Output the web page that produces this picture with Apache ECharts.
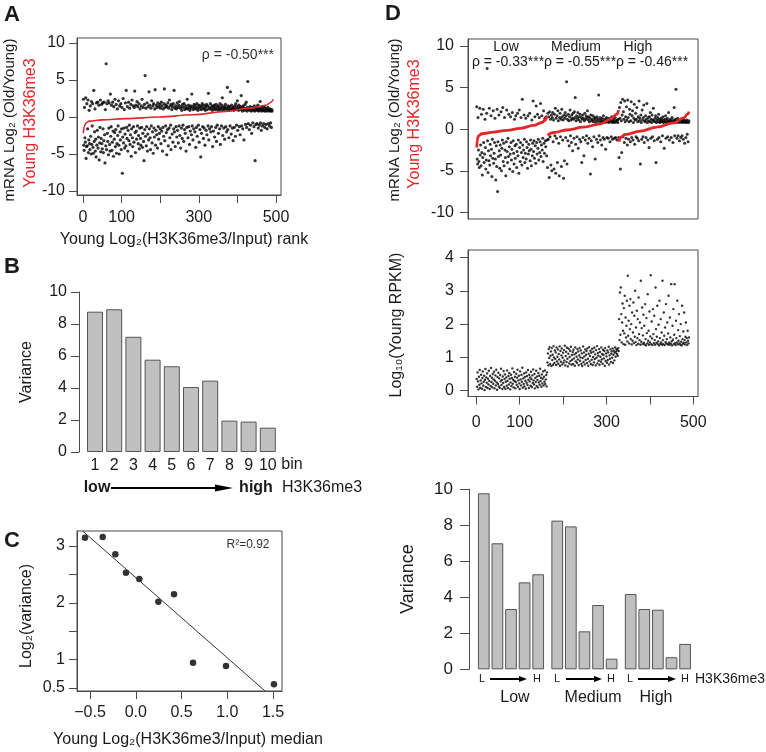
<!DOCTYPE html>
<html>
<head>
<meta charset="utf-8">
<script src="https://cdn.jsdelivr.net/npm/echarts@6/dist/echarts.min.js"></script>
<style>
html, body { margin: 0; padding: 0; background: #fff; }
#chart { width: 766px; height: 752px; }
</style>
</head>
<body>
<div id="chart"></div>
<script>
// ---- data ----
// A: mRNA log2(old/young), one value per H3K36me3 rank (1..490)
const aMrnaByRank = [
  2.4,-3.8,-4.5,1.3,-2.8,-3.4,2.6,-5.6,-4.0,1.8,
  -3.9,-1.6,2.3,-4.8,-3.1,0.9,-3.6,-4.4,1.5,-2.6,
  -5.0,2.1,-3.7,-1.2,1.8,-4.1,-4.9,3.6,-3.3,-2.0,
  1.1,-4.6,-3.0,-5.4,1.9,-3.8,-1.8,2.0,-4.2,-2.7,
  1.6,-5.8,-3.5,-1.4,2.3,-4.7,-2.9,1.7,-3.6,-4.3,
  1.9,-1.6,-4.8,-3.2,2.0,-2.4,-6.2,1.0,-3.9,7.2,
  -4.4,1.8,-2.2,-3.3,2.2,-5.1,-1.5,1.9,-3.7,-4.6,
  3.1,-2.6,-1.3,1.6,-4.5,-3.4,2.0,-1.9,-5.3,1.4,
  -3.0,-2.1,2.4,-4.0,-1.7,1.7,-4.9,-3.6,1.1,-2.5,
  -1.2,2.2,-3.8,-5.0,1.5,-2.0,-3.1,1.8,-4.4,-1.6,
  1.3,-7.6,-2.7,2.5,-3.5,-1.5,1.0,-4.2,-2.3,1.9,
  -3.9,3.6,-1.4,-2.9,1.4,-4.6,-1.8,2.0,-3.2,-1.1,
  1.2,-3.7,-2.4,1.7,-5.3,-1.6,2.3,-2.8,-4.0,1.5,
  -1.3,-3.4,1.3,3.5,-2.1,-4.8,1.6,-1.9,-3.0,2.1,
  -1.2,1.4,-3.6,-2.5,1.8,-4.3,-1.5,1.1,-2.9,-3.8,
  1.5,-1.4,2.4,-4.1,-2.2,1.3,-3.3,-5.9,1.7,-1.7,
  5.6,-2.6,1.2,-3.9,-1.3,1.9,-4.6,-2.3,1.4,-3.1,
  3.4,-1.6,1.6,-2.8,-4.4,1.2,-1.2,2.2,-3.5,-2.0,
  1.5,-4.9,1.8,-1.5,-2.7,1.1,3.7,-3.8,-1.8,1.6,
  -2.4,1.3,-4.2,1.9,-1.3,-3.0,1.4,-2.2,1.7,-1.6,
  1.2,-3.6,2.0,-1.9,1.5,-4.6,-1.4,1.1,-2.6,1.8,
  3.8,-3.2,1.3,-1.2,1.6,-2.1,-5.1,1.4,-1.7,1.9,
  -3.9,1.2,-1.5,2.3,-2.8,1.5,-1.1,-4.4,1.7,1.0,
  -2.3,1.4,-3.4,1.8,-1.6,3.6,-2.0,1.2,-4.0,1.5,
  -1.3,1.1,-2.7,1.9,-1.8,1.3,-3.5,1.6,-1.2,2.1,
  -2.5,1.2,-4.2,1.4,-1.5,0.9,-2.9,1.7,-1.1,1.3,
  -3.3,1.8,-1.7,1.0,-2.2,1.5,-4.6,1.2,-1.4,2.4,
  1.1,-2.8,1.6,-1.3,1.3,-3.7,0.9,-1.9,1.5,1.2,
  -2.4,3.1,-1.2,1.4,-3.1,1.0,-1.6,1.7,1.2,-2.0,
  1.5,-4.1,1.1,-1.4,1.8,-2.6,1.3,0.9,-1.1,1.6,
  -3.4,1.2,-1.7,1.5,-5.4,1.0,-2.2,1.4,1.8,-1.3,
  1.1,-2.9,1.6,-1.5,1.2,-3.8,0.9,1.4,-1.8,1.7,
  -2.4,1.0,1.5,-1.2,3.2,-3.1,1.3,-1.6,1.1,1.8,
  -2.0,1.2,-1.3,1.5,0.9,-4.0,1.4,-1.9,1.1,1.6,
  -2.7,1.3,1.0,-1.4,1.7,-3.3,1.2,-1.1,1.5,0.9,
  -2.2,1.4,1.1,-1.6,1.8,-3.7,1.0,1.3,-1.2,1.6,
  2.6,-2.5,1.2,0.9,-1.5,1.4,-3.0,1.1,1.7,-1.3,
  1.3,-2.0,1.0,4.0,-1.7,1.5,1.2,-2.8,0.9,1.4,
  -1.2,3.4,1.1,-2.3,1.6,1.0,-1.5,1.3,-3.2,1.2,
  0.9,-1.4,1.5,1.1,-2.6,1.8,1.0,-1.1,1.4,2.2,
  -1.8,1.2,0.9,1.6,-1.3,1.1,-2.4,1.4,1.0,2.9,
  -1.2,1.3,0.8,-1.6,1.5,1.0,-3.1,1.2,0.9,1.7,
  -1.0,1.1,2.0,-1.4,0.8,1.3,4.8,-0.9,1.0,1.2,
  -1.7,0.9,1.4,-1.1,1.1,0.8,-2.2,1.3,1.0,-0.8,
  1.2,0.9,-1.3,1.5,0.8,-5.9,1.1,-1.0,1.3,0.9,
  -0.9,1.0,1.6,-1.5,0.8,1.2,-1.1,0.9,2.1,-0.8,
  1.1,-1.8,0.8,1.3,-1.2,0.9,1.0,-0.9,1.4,0.8,
  -1.4,1.2,0.9,-1.0,0.8,1.1,-1.6,0.9,1.3,-0.9,
  0.8,1.0,-1.2,0.9,1.1,-0.8,0.8,-1.4,1.0,0.8
];
// A: red curve, young H3K36me3 (rank, scaled value)
const aH3Curve = [[1,-2.2],[3,-1.3],[8,-0.8],[16,-0.55],[50,-0.38],[110,-0.22],[198,0],
  [284,0.3],[370,0.75],[431,1.2],[474,1.6],[487,2.0],[493,2.4]];

// B
const binLabels = ['1','2','3','4','5','6','7','8','9','10'];
const binVariance = [8.77, 8.92, 7.2, 5.77, 5.36, 4.06, 4.46, 1.96, 1.9, 1.52];

// C
const cMedian = [-0.555, -0.361, -0.223, -0.107, 0.039, 0.247, 0.418, 0.626, 0.986, 1.51];
const cLogVar = [3.146, 3.158, 2.853, 2.53, 2.42, 2.02, 2.15, 0.946, 0.887, 0.565];
const cFit = [[-0.58, 3.264], [1.413, 0.447]];

// D: groups by expression, ranks run on across the groups
const groupNames = ['Low', 'Medium', 'High'];
const groupRho = ['ρ = -0.33***', 'ρ = -0.55***', 'ρ = -0.46***'];
const dMrnaLow = [
  2.7,-3.6,-4.2,1.4,-2.5,-3.9,-4.6,2.5,-3.1,-1.9,
  -4.4,1.8,-2.8,-5.5,-3.4,2.4,-1.6,-4.0,-3.0,1.2,
  -2.2,-4.8,-3.7,1.9,7.3,-1.4,-5.2,-2.6,-3.8,2.5,
  -4.3,-1.8,-3.2,1.6,-2.4,-5.7,-1.2,-3.5,2.2,-4.1,
  -2.9,-1.6,1.3,-3.6,-6.1,-2.0,-4.5,2.4,-7.5,-1.5,
  -3.3,1.7,-2.6,-4.7,-1.9,-3.1,2.1,-5.0,-2.3,-1.3,
  2.6,-3.9,-1.7,-4.4,1.4,-2.5,-3.4,-5.6,-1.5,2.3,
  -2.7,-4.0,-1.1,-3.3,1.8,-2.1,-4.8,-3.0,1.5,-1.6,
  -3.7,-2.4,2.0,-5.1,-1.4,-2.9,-4.2,1.2,-2.0,-3.5,
  1.6,-1.8,-4.6,-2.7,1.9,-3.2,-1.3,-5.3,2.3,-2.2,
  -3.9,-1.6,1.4,-2.8,-4.3,3.6,-1.9,-3.4,-2.5,1.7,
  -1.2,-4.0,-2.9,1.3,-3.6,-1.5,-2.2,-4.7,1.6,-3.0,
  -1.8,-2.6,1.9,-3.8,-1.3,-2.4,-4.4,1.1,-3.2,-1.7,
  3.4,-2.7,-1.4,-3.5,1.5,-2.0,-4.1,2.8,-1.6,-3.0,
  1.8,-2.3,-1.2,-3.7,1.4,-2.8,-1.5,3.1,-3.3,-1.9,
  1.6,-2.5,-1.1,-3.9,2.2,-1.7,-2.9,1.3,-1.4,-2.1,
  1.5,-3.2,-1.3
];
const dMrnaMed = [
  -4.6,1.9,-1.2,1.5,-5.8,2.1,-0.9,1.2,-4.3,1.7,
  -5.0,1.4,2.0,-1.5,1.1,-4.8,1.8,-0.8,2.5,-5.3,
  1.3,-1.1,1.6,-4.0,2.2,1.0,-1.7,-5.6,1.4,1.9,
  -0.9,1.2,-4.5,2.4,1.5,-1.3,1.1,-5.9,1.7,-3.8,
  1.3,2.0,-1.0,1.6,5.7,-4.2,1.2,-1.4,1.8,1.0,
  -2.0,1.5,2.3,-0.8,1.1,-1.6,1.7,1.3,-2.6,1.9,
  1.2,-1.1,2.1,1.4,3.8,-1.8,1.0,1.6,-0.9,1.3,
  2.0,-2.3,1.1,1.5,-1.2,1.8,0.9,-1.5,1.4,-4.0,
  1.2,1.7,-1.0,1.3,-3.2,1.0,1.9,-1.3,1.2,1.6,
  -0.8,1.4,2.2,-1.7,1.1,1.5,-1.1,0.9,1.3,-5.4,
  1.7,-1.4,1.0,1.2,-2.1,1.6,0.9,-0.9,1.4,1.1,
  -3.6,1.3,0.8,-1.2,1.5,1.0,-1.6,1.2,4.1,-0.8,
  0.9,1.4,-1.3,1.1,0.8,-1.9,1.3,1.0,-1.0,1.6,
  0.9,-1.2,1.2,0.8,-2.4,1.1,1.4,-1.0,0.9,1.2,
  -1.1,0.8,1.3,1.0,-1.5,0.9,1.1,-0.9,1.5,0.8,
  -1.2,1.0,0.9,1.2,-1.1,0.8,1.4,-1.0,1.0,0.9,
  -1.3,1.1,0.8,1.2,-1.0
];
const dMrnaHigh = [
  -3.4,2.6,1.3,-4.8,3.2,1.0,-2.8,1.7,3.6,-0.9,
  2.1,1.2,-1.6,3.4,0.9,1.5,-1.1,2.7,1.1,-1.9,
  3.5,1.4,-1.2,0.9,2.4,1.8,-1.5,1.0,3.3,-1.0,
  1.6,2.2,-1.3,0.8,1.3,3.0,-1.8,1.1,1.9,-0.9,
  1.2,2.6,-1.1,0.9,1.5,-1.4,3.4,1.0,1.3,-4.2,
  1.7,0.8,-1.2,2.3,1.1,-0.9,1.4,2.9,-1.6,1.0,
  0.9,1.6,-1.0,1.2,3.1,0.8,-1.3,1.4,1.0,-2.2,
  1.5,0.9,2.0,-1.1,1.2,0.8,1.7,-0.9,1.1,2.5,
  1.0,-1.4,0.9,1.3,1.6,-4.0,0.8,1.1,-1.2,1.4,
  0.9,1.8,-1.0,1.2,0.8,1.0,-1.5,1.3,0.9,1.1,
  -0.8,1.5,0.8,1.0,-2.3,1.2,0.9,1.6,-1.1,0.8,
  1.1,1.3,-0.9,0.9,2.0,1.0,-1.3,0.8,1.2,1.0,
  -1.0,0.9,1.4,0.8,-1.6,1.1,0.9,2.6,-0.8,1.0,
  1.2,4.8,0.8,-1.1,0.9,1.3,-0.8,1.0,0.8,-1.4,
  1.1,0.9,-1.0,1.2,0.8,-0.8,1.0,0.9,-1.2,1.1,
  0.8,-1.7,1.0,0.9,-1.0,0.8,1.1,-0.6,0.9,-1.5,0.8,1.0
];
const dCurveLow = [[1,-2.2],[2,-1.4],[5,-0.8],[13,-0.55],[40,-0.35],[71,-0.15],[101,0.1],
  [132,0.45],[151,0.8],[159,1.1],[163,1.6]];
const dCurveMed = [[164,-0.72],[178,-0.4],[209,-0.1],[247,0.24],[286,0.64],[309,1.2],[324,1.8],[328,2.3]];
const dCurveHigh = [[329,-1.5],[332,-1.0],[343,-0.64],[378,-0.24],[416,0.24],[455,0.76],[478,1.36],
  [487,1.8],[490,2.1]];

const dRpkmLow = [
  0.35,0.12,0.55,0.28,0.04,0.42,0.18,0.62,0.09,0.31,
  0.48,0.22,0.06,0.38,0.58,0.15,0.27,0.45,0.02,0.33,
  0.65,0.11,0.40,0.24,0.52,0.08,0.36,0.19,0.60,0.29,
  0.05,0.44,0.14,0.68,0.26,0.39,0.10,0.50,0.21,0.34,
  0.57,0.07,0.30,0.46,0.16,0.63,0.25,0.03,0.41,0.20,
  0.54,0.13,0.37,0.09,0.47,0.28,0.66,0.17,0.32,0.05,
  0.43,0.23,0.59,0.11,0.35,0.49,0.06,0.27,0.40,0.15,
  0.61,0.30,0.08,0.44,0.19,0.53,0.36,0.04,0.25,0.48,
  0.14,0.38,0.67,0.21,0.33,0.10,0.56,0.29,0.42,0.07,
  0.26,0.51,0.18,0.39,0.63,0.12,0.31,0.45,0.22,0.05,
  0.58,0.34,0.16,0.47,0.27,0.69,0.09,0.37,0.20,0.52,
  0.13,0.41,0.30,0.06,0.55,0.24,0.44,0.17,0.62,0.33,
  0.08,0.48,0.28,0.40,0.15,0.57,0.35,0.11,0.46,0.23,
  0.64,0.31,0.19,0.50,0.07,0.38,0.26,0.60,0.14,0.43,
  0.32,0.10,0.53,0.25,0.45,0.18,0.66,0.29,0.39,0.12,
  0.49,0.22,0.36,0.58,0.16,0.42,0.27,0.61,0.20,0.34,
  0.47,0.13,0.55
];
const dRpkmMed = [
  0.85,1.12,0.76,1.25,0.98,1.31,0.80,1.05,1.18,0.74,
  1.28,0.92,1.08,0.78,1.34,1.00,0.83,1.21,0.95,1.15,
  0.77,1.30,0.88,1.02,1.24,0.81,1.10,0.94,1.33,0.75,
  1.19,0.87,1.06,1.27,0.79,0.99,1.14,0.84,1.22,0.91,
  1.35,0.76,1.04,1.17,0.86,1.29,0.96,0.73,1.11,1.26,
  0.82,1.01,1.20,0.89,1.32,0.78,1.07,0.93,1.16,0.80,
  1.23,0.97,1.09,0.75,1.30,0.88,1.13,1.02,0.84,1.25,
  0.94,1.18,0.77,1.06,1.28,0.90,1.00,1.21,0.81,1.12,
  0.74,0.98,1.33,0.86,1.15,1.03,0.79,1.24,0.92,1.08,
  1.19,0.83,1.27,0.96,0.75,1.11,1.31,0.88,1.04,1.20,
  0.80,1.14,0.93,1.26,0.77,1.01,1.17,0.85,1.29,0.95,
  1.09,0.76,1.22,0.99,1.34,0.82,1.13,1.05,0.90,1.25,
  0.78,1.16,1.02,0.87,1.30,0.94,1.10,0.81,1.23,1.07,
  0.97,1.19,0.75,1.28,0.89,1.12,1.03,0.84,1.21,0.92,
  1.15,1.32,0.79,1.06,0.96,1.24,0.86,1.11,1.18,0.99,
  1.27,0.83,1.08,1.20,0.91,1.14,1.30,1.02,1.17,1.25,
  1.10,1.22,1.05,1.28,1.19
];
const dRpkmHigh = [
  2.15,1.52,2.95,1.68,3.10,2.30,1.45,2.05,2.62,1.80,
  1.40,2.48,1.72,2.85,1.38,2.20,1.60,1.95,2.70,1.48,
  3.45,1.65,2.10,1.42,2.55,1.85,2.75,1.55,2.00,1.39,
  2.35,1.50,1.75,2.65,1.43,2.25,1.62,3.00,1.46,1.90,
  1.37,2.40,1.58,2.15,1.41,2.80,1.70,1.52,2.05,1.38,
  3.30,1.47,1.88,2.50,1.40,1.66,2.28,1.44,1.95,1.39,
  2.60,1.55,1.36,2.18,1.73,1.42,2.90,1.50,1.80,1.38,
  2.38,1.45,1.63,3.47,1.40,2.08,1.57,1.37,2.45,1.70,
  1.43,2.25,1.52,1.38,3.10,1.85,1.44,1.62,2.55,1.40,
  1.48,1.98,1.36,2.70,1.58,1.41,2.15,1.45,1.75,1.38,
  3.30,1.52,1.40,2.35,1.65,1.37,1.90,1.46,2.60,1.42,
  1.55,2.05,1.39,1.72,2.85,1.44,1.38,2.20,1.60,1.41,
  3.20,1.48,1.36,1.95,1.53,2.45,1.40,1.68,3.20,1.43,
  1.37,2.10,1.58,1.45,2.70,1.39,1.82,1.50,2.30,1.42,
  1.64,1.38,2.00,1.47,1.36,2.55,1.55,1.41,1.78,1.44,
  2.35,1.52,1.39,1.62,2.05,1.45,1.58,1.37,1.80,1.50,1.42,1.60
];
const groupVariance = [
  [9.78, 7.0, 3.35, 4.83, 5.28],
  [8.26, 7.94, 2.11, 3.57, 0.59],
  [4.18, 3.35, 3.31, 0.67, 1.41]
];

// tick values
const rankTicks = [0, 100, 200, 300, 400, 500];
const rankLabels = [0, 100, 300, 500];
const mrnaTicks = [-10, -5, 0, 5, 10];
const cXTicks = [-0.5, 0, 0.5, 1, 1.5];
const cYTicks = [0.5, 1, 1.5, 2, 2.5, 3];
const cYLabels = [0.5, 1, 2, 3];
const rpkmTicks = [0, 1, 2, 3, 4];

// ---- styling ----
const FONT = "'Liberation Sans', Arial, Helvetica, sans-serif";
const INK = '#1a1a1a';
const FRAME = '#4a4a4a';
const RED = '#e3262a';
const BAR = '#c0c0c0';
const GROUP_STEP = 5.4;   // bar slots between group starts in D

const ranked = (vals, start) => vals.map((v, i) => [start + i, v]);
const dMrna = [].concat(dMrnaLow, dMrnaMed, dMrnaHigh);
const dRpkm = [].concat(dRpkmLow, dRpkmMed, dRpkmHigh);
const groupBars = [];
groupVariance.forEach((vals, g) => vals.forEach((v, i) => groupBars.push([g * GROUP_STEP + i, v])));

function valAxis(gridIndex, min, max, ticks, labels, margin, extra) {
  const ax = {
    type: 'value', gridIndex, min, max,
    axisLine: { show: true, onZero: false, lineStyle: { color: FRAME, width: 1 } },
    axisTick: { show: !!ticks, customValues: ticks, length: 8, lineStyle: { color: FRAME } },
    axisLabel: { show: !!labels, customValues: labels, margin: margin, fontSize: 16, color: INK, fontFamily: FONT },
    splitLine: { show: false }
  };
  return Object.assign(ax, extra || {});
}

function txt(text, x, y, o) {
  o = o || {};
  return {
    type: 'text', x, y, rotation: o.rot || 0, silent: true,
    style: {
      text, fill: o.color || INK, fontSize: o.size || 16, fontFamily: FONT,
      fontWeight: o.bold ? 'bold' : 'normal',
      align: o.align || 'center', verticalAlign: 'middle'
    }
  };
}

function arrow(x1, x2, y, head, half, w) {
  return [
    { type: 'line', silent: true, shape: { x1, y1: y, x2: x2 - head + 1, y2: y }, style: { stroke: '#000', lineWidth: w } },
    { type: 'polygon', silent: true, shape: { points: [[x2 - head, y - half], [x2, y], [x2 - head, y + half]] }, style: { fill: '#000' } }
  ];
}

const UP = Math.PI / 2;
const graphics = [
  txt('A', 4, 15, { bold: true, size: 22, align: 'left' }),
  txt('B', 4, 267, { bold: true, size: 22, align: 'left' }),
  txt('C', 4, 541, { bold: true, size: 22, align: 'left' }),
  txt('D', 385, 14, { bold: true, size: 22, align: 'left' }),
  // A
  txt('mRNA Log₂ (Old/Young)', 10, 120, { rot: UP, size: 15 }),
  txt('Young H3K36me3', 31, 123, { rot: UP, color: RED }),
  txt('Young Log₂(H3K36me3/Input) rank', 184, 240),
  txt('ρ = -0.50***', 274, 55, { size: 14, align: 'right', color: '#333' }),
  // B
  txt('Variance', 27, 372, { rot: UP }),
  txt('bin', 292, 465),
  txt('low', 97, 488, { bold: true }),
  txt('high', 256, 488, { bold: true }),
  txt('H3K36me3', 282, 488, { align: 'left' }),
  // C
  txt('R²=0.92', 248, 545, { size: 12, color: '#333' }),
  txt('Log₂(variance)', 27, 616, { rot: UP }),
  txt('Young Log₂(H3K36me3/Input) median', 188, 740),
  // D top / middle
  txt('mRNA Log₂ (Old/Young)', 395, 120, { rot: UP, size: 15 }),
  txt('Young H3K36me3', 415, 124, { rot: UP, color: RED }),
  txt(groupNames[0], 506, 47, { size: 14 }),
  txt(groupNames[1], 576, 47, { size: 14 }),
  txt(groupNames[2], 638, 47, { size: 14 }),
  txt(groupRho[0], 508, 62, { size: 14 }),
  txt(groupRho[1], 580, 62, { size: 14 }),
  txt(groupRho[2], 652, 62, { size: 14 }),
  txt('Log₁₀(Young RPKM)', 397, 325, { rot: UP }),
  // D bottom
  txt('Variance', 408, 579, { rot: UP, size: 18 }),
  txt('L', 482, 679, { size: 11 }), txt('H', 537, 679, { size: 11 }),
  txt('L', 557, 679, { size: 11 }), txt('H', 611, 679, { size: 11 }),
  txt('L', 630, 679, { size: 11 }), txt('H', 685, 679, { size: 11 }),
  txt('H3K36me3', 695, 679, { align: 'left', size: 14 }),
  txt(groupNames[0], 515, 698), txt(groupNames[1], 593, 698), txt(groupNames[2], 656, 698)
].concat(
  arrow(111, 233, 488, 18, 3.5, 2.2),
  arrow(490, 527, 679, 8, 3, 2),
  arrow(566, 602, 679, 8, 3, 2),
  arrow(638, 676, 679, 8, 3, 2)
);

const boxed = { show: true, borderColor: FRAME, borderWidth: 1, backgroundColor: 'transparent', outerBoundsMode: 'none' };

const option = {
  animation: false,
  backgroundColor: '#fff',
  grid: [
    Object.assign({ left: 77, top: 38, width: 204, height: 157 }, boxed),
    { left: 85.4, top: 292, width: 192, height: 160, show: false, outerBoundsMode: 'none' },
    Object.assign({ left: 77, top: 531, width: 205, height: 160 }, boxed),
    Object.assign({ left: 468, top: 39, width: 230, height: 180 }, boxed),
    Object.assign({ left: 468, top: 250, width: 230, height: 146.5 }, boxed),
    { left: 469, top: 489.3, width: 218.8, height: 180, show: false, outerBoundsMode: 'none' }
  ],
  xAxis: [
    valAxis(0, -15.5, 513, rankTicks, rankLabels, 15),
    { type: 'category', gridIndex: 1, data: binLabels, axisLine: { show: false }, axisTick: { show: false },
      axisLabel: { interval: 0, margin: 6, fontSize: 16, color: INK, fontFamily: FONT } },
    valAxis(2, -0.642, 1.598, cXTicks, cXTicks, 14, {
      axisLabel: { customValues: cXTicks, margin: 14, fontSize: 16, color: INK, fontFamily: FONT,
        formatter: v => v.toFixed(1).replace('-', '−') } }),
    valAxis(3, -19.1, 510.8, null, null, 0, { axisLine: { show: false } }),
    valAxis(4, -19.1, 510.8, rankTicks, rankLabels, 18),
    { type: 'value', gridIndex: 5, min: -1.088, max: 15, show: false }
  ],
  yAxis: [
    valAxis(0, -10.54, 10.68, mrnaTicks, mrnaTicks, 12),
    { type: 'value', gridIndex: 1, min: 0, max: 10, interval: 2, offset: 6.4,
      axisLine: { show: true, onZero: false, lineStyle: { color: FRAME } },
      axisTick: { show: true, length: 8, lineStyle: { color: FRAME } },
      axisLabel: { margin: 12, fontSize: 16, color: INK, fontFamily: FONT }, splitLine: { show: false } },
    valAxis(2, 0.447, 3.264, cYTicks, cYLabels, 12),
    valAxis(3, -10.8, 10.84, mrnaTicks, mrnaTicks, 14),
    valAxis(4, -0.174, 4.225, rpkmTicks, rpkmTicks, 14),
    { type: 'value', gridIndex: 5, min: 0, max: 10, interval: 2,
      axisLine: { show: true, onZero: false, lineStyle: { color: FRAME } },
      axisTick: { show: true, length: 9, lineStyle: { color: FRAME } },
      axisLabel: { margin: 16, fontSize: 17, color: INK, fontFamily: FONT }, splitLine: { show: false } }
  ],
  series: [
    { type: 'scatter', xAxisIndex: 0, yAxisIndex: 0, data: ranked(aMrnaByRank, 1), symbolSize: 3.2,
      itemStyle: { color: '#000' }, silent: true },
    { type: 'line', xAxisIndex: 0, yAxisIndex: 0, data: aH3Curve, smooth: 0.4, smoothMonotone: 'x',
      showSymbol: false, lineStyle: { color: RED, width: 1.6 }, silent: true },
    { type: 'bar', xAxisIndex: 1, yAxisIndex: 1, data: binVariance, barWidth: 16, silent: true,
      itemStyle: { color: BAR, borderColor: '#555', borderWidth: 1 } },
    { type: 'line', xAxisIndex: 2, yAxisIndex: 2, data: cFit, showSymbol: false, silent: true,
      lineStyle: { color: '#333', width: 1 } },
    { type: 'scatter', xAxisIndex: 2, yAxisIndex: 2, data: cMedian.map((x, i) => [x, cLogVar[i]]),
      symbolSize: 6.5, itemStyle: { color: '#000' }, silent: true },
    { type: 'scatter', xAxisIndex: 3, yAxisIndex: 3, data: ranked(dMrna, 1), symbolSize: 3,
      itemStyle: { color: '#000' }, silent: true },
    ...[dCurveLow, dCurveMed, dCurveHigh].map(c => ({
      type: 'line', xAxisIndex: 3, yAxisIndex: 3, data: c, smooth: 0.4, smoothMonotone: 'x',
      showSymbol: false, lineStyle: { color: RED, width: 2.8 }, silent: true
    })),
    { type: 'scatter', xAxisIndex: 4, yAxisIndex: 4, data: ranked(dRpkm, 1), symbolSize: 2.4,
      itemStyle: { color: '#000' }, silent: true },
    { type: 'bar', xAxisIndex: 5, yAxisIndex: 5, data: groupBars, barWidth: 11.7, silent: true,
      itemStyle: { color: BAR, borderColor: '#555', borderWidth: 1 } }
  ],
  graphic: graphics
};

const chart = echarts.init(document.getElementById('chart'), null, { renderer: 'canvas' });
chart.setOption(option);
</script>
</body>
</html>
